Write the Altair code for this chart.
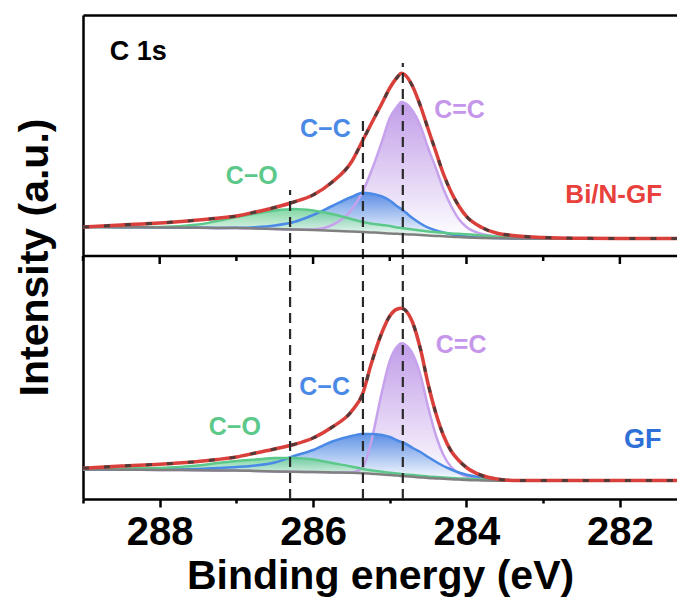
import altair as alt
import pandas as pd

# ---------------- data ----------------
energy = [289.0, 288.5, 288.0, 287.5, 287.25, 287.0, 286.75, 286.5, 286.25, 286.0,
          285.75, 285.5, 285.35, 285.25, 285.1, 285.0, 284.9, 284.85, 284.8, 284.7,
          284.6, 284.5, 284.4, 284.3, 284.2, 284.1, 284.0, 283.8, 283.6, 283.4,
          283.0, 282.5, 282.0, 281.5, 281.0]

# Bi/N-GF (upper spectrum), intensity in arbitrary units
bg_top = [29, 28.8, 28.5, 28.3, 28.1, 28, 27.5, 27, 26.5, 26, 25.3, 24.5, 24, 23.6, 23,
          22.5, 22.2, 22, 21.8, 21.4, 21, 20.5, 20.1, 19.7, 19.3, 18.9, 18.5, 18, 17.7,
          17.5, 17.5, 17.5, 17.5, 17.5, 17.5]
co_top = [29, 28.9, 29, 31.5, 35, 39, 42.5, 45.5, 47, 45.5, 42, 37, 34, 32.5, 31, 30,
          28.5, 28, 27.5, 26.5, 25.5, 24.5, 23.8, 23.2, 22.6, 22.2, 21.8, 20.5, 19.3,
          18.6, 17.8, 17.5, 17.5, 17.5, 17.5]
cc_top = [29, 28.8, 28.5, 28.3, 28.1, 28.2, 28.8, 30.5, 34, 41, 50, 59, 63.3, 62.5,
          59.5, 55.5, 49.5, 47, 44, 37.7, 32.5, 28.3, 25.5, 23.5, 21.8, 20.5, 19.5,
          18.5, 18, 17.6, 17.5, 17.5, 17.5, 17.5, 17.5]
cdc_top = [29, 28.8, 28.5, 28.3, 28.1, 28, 27.5, 27, 26.5, 26.5, 31, 46, 65, 83, 115,
           138, 150, 154, 153, 145, 130, 108, 88, 67, 50, 37, 29, 22, 19.5, 18, 17.5,
           17.5, 17.5, 17.5, 17.5]
fit_top = [29, 31, 33, 36, 37.8, 40, 44, 48.5, 54, 61, 74, 94, 116, 131, 153, 168, 179,
           182.7, 181, 169.3, 150, 127, 104.5, 82, 64, 50, 39.6, 28.5, 22.7, 20.5, 18.5,
           17.7, 17.5, 17.5, 17.5]

# GF (lower spectrum)
bg_bot = [29.5, 29.3, 29, 28.8, 28.6, 28.5, 28, 27.5, 27.2, 27, 26.6, 26.3, 25.8, 25.3,
          24.6, 24, 23.4, 23, 22.7, 22.2, 21.6, 21, 20.6, 20.2, 19.8, 19.4, 19, 18.6,
          18.3, 18.2, 18.2, 18.2, 18.2, 18.2, 18.2]
co_bot = [30, 30.5, 31, 33.5, 36, 38, 39.5, 41, 41, 39.5, 36, 32.5, 30, 28.8, 27.2, 26.2,
          25.4, 25, 24.6, 24, 23.3, 22.5, 22, 21.5, 21, 20.6, 20.2, 19.5, 19, 18.6, 18.2,
          18.2, 18.2, 18.2, 18.2]
cc_bot = [29.5, 29.5, 29.5, 30, 31, 32, 33.5, 36.5, 43, 49, 57.5, 63, 65, 65, 64, 62,
          58.5, 57, 55.5, 51, 47, 42, 37.3, 33, 29.5, 26.5, 24.3, 21.6, 19.7, 18.8, 18.3,
          18.2, 18.2, 18.2, 18.2]
cdc_bot = [29.5, 29.3, 29, 28.8, 28.6, 28.5, 28, 27.5, 27.2, 27, 26.6, 26.5, 32, 55, 108,
           138, 153, 155.7, 154.5, 145, 124, 92, 64, 44, 32, 26, 22.5, 20, 18.8, 18.3,
           18.2, 18.2, 18.2, 18.2, 18.2]
fit_bot = [30.7, 33, 34.8, 37.5, 39.5, 42, 46, 50, 54.5, 61, 72, 87.5, 106, 133, 167, 183,
           190, 190.7, 189, 176, 150, 115, 86, 63.5, 48, 38.5, 31.5, 23.5, 20, 18.6, 18.5,
           18.5, 18.5, 18.5, 18.5]

peak_pos = [286.3, 285.35, 284.83]          # dashed guide lines (eV)
peak_top = [66, 139, 193]                   # where each guide starts in the upper spectrum

major_ticks = [282, 284, 286, 288]
minor_ticks = [283, 285, 287, 289]

panel_offset = {"GF": 0, "Bi/N-GF": 243}     # vertical stacking of spectra
x_domain = [289.0, 281.255]
y_domain = [0, 484]

# ---------------- tables ----------------
rows = []
for panel, bg, co, cc, cdc, fit in [("Bi/N-GF", bg_top, co_top, cc_top, cdc_top, fit_top),
                                     ("GF", bg_bot, co_bot, cc_bot, cdc_bot, fit_bot)]:
    off = panel_offset[panel]
    for i, e in enumerate(energy):
        rows.append(dict(panel=panel, energy=e, bg=bg[i] + off, co=co[i] + off,
                         cc=cc[i] + off, cdc=cdc[i] + off, fit=fit[i] + off))
df = pd.DataFrame(rows)

guides = pd.DataFrame({"energy": peak_pos, "y0": [0] * 3,
                       "y1": [v + panel_offset["Bi/N-GF"] for v in peak_top]})

sep = panel_offset["Bi/N-GF"]
sep_ticks = pd.DataFrame({"energy": major_ticks + minor_ticks,
                          "y0": [sep] * 8,
                          "y1": [sep - 8] * 4 + [sep - 5] * 4})

labels = pd.DataFrame([
    dict(t="C\u2212C", x=285.84, y=362, c="#4a8ae6", s=25),
    dict(t="C\u2212O", x=286.80, y=315, c="#5cc98a", s=25),
    dict(t="C=C", x=284.09, y=381, c="#c596ea", s=25),
    dict(t="Bi/N-GF", x=282.08, y=296, c="#e8413c", s=26),
    dict(t="C\u2212C", x=285.85, y=104, c="#4a8ae6", s=25),
    dict(t="C\u2212O", x=287.02, y=64, c="#5cc98a", s=25),
    dict(t="C=C", x=284.07, y=146, c="#c596ea", s=25),
    dict(t="GF", x=281.70, y=51, c="#2e6fd8", s=27),
])
core_label = pd.DataFrame([dict(t="C 1s", x=288.65, y=439)])

# ---------------- encodings ----------------
FONT = "Liberation Sans"
xs = alt.Scale(domain=x_domain, nice=False, zero=False)
ys = alt.Scale(domain=y_domain, nice=False, zero=False)
yaxis = alt.Axis(title="Intensity (a.u.)", labels=False, ticks=False, grid=False,
                 domainColor="black", domainWidth=2.5, titleFont=FONT,
                 titleFontSize=41, titleFontWeight="bold", titleColor="black",
                 titlePadding=27)


def X(axis=None, field="energy:Q"):
    return alt.X(field, scale=xs, axis=axis)


def Y(f):
    return alt.Y(f, type="quantitative", scale=ys, axis=yaxis)


base = alt.Chart(df)


def grad(c):
    return alt.Gradient(gradient="linear",
                        stops=[alt.GradientStop(color="#ffffff", offset=0),
                               alt.GradientStop(color=c, offset=1)],
                        x1=1, x2=1, y1=1, y2=0)


fills = []
for field, col in [("cdc", "#b184e2"), ("cc", "#3a7be0"), ("co", "#62cc8e")]:
    fills.append(base.mark_area(color=grad(col), opacity=0.8, interpolate="monotone",
                                clip=True)
                 .encode(x=X(), y=Y(field), y2=alt.Y2("bg"), detail="panel:N"))

lines = []
for field, col in [("cdc", "#c7a2ec"), ("cc", "#4a8ae6"), ("co", "#5cc98a")]:
    lines.append(base.mark_line(color=col, strokeWidth=2.5, interpolate="monotone",
                                clip=True)
                 .encode(x=X(), y=Y(field), detail="panel:N"))

bg_line = base.mark_line(color="#808080", strokeWidth=2.5, interpolate="monotone",
                         clip=True).encode(x=X(), y=Y("bg"), detail="panel:N")

bottom_axis = alt.Axis(values=major_ticks + minor_ticks,
                       labelExpr="datum.value % 2 === 0 ? datum.label : ''",
                       tickSize={"condition": {"test": "datum.value % 2 === 0", "value": 8},
                                 "value": 4},
                       tickWidth=2.5, tickColor="black", domainColor="black",
                       domainWidth=2.5, grid=False, labelFont=FONT, labelFontSize=40,
                       labelFontWeight="bold", labelColor="black", labelPadding=5,
                       labelFlush=False, labelOverlap=False,
                       title="Binding energy (eV)", titleFont=FONT, titleFontSize=41,
                       titleFontWeight="bold", titleColor="black", titlePadding=4)

fit_line = base.mark_line(color="#d9403b", strokeWidth=3.5, interpolate="monotone",
                          clip=True).encode(x=X(bottom_axis), y=Y("fit"), detail="panel:N")
raw_line = base.mark_line(color="#3a3a3a", strokeWidth=3, strokeDash=[6, 15],
                          opacity=0.85, interpolate="monotone", clip=True).encode(
    x=X(), y=Y("fit"), detail="panel:N")

top_axis = alt.Axis(orient="top", labels=False, ticks=False, title=None, grid=False,
                    domainColor="black", domainWidth=2.5)
guide_rules = alt.Chart(guides).mark_rule(color="#2a2a2a", strokeWidth=2.2,
                                          strokeDash=[10, 6]).encode(
    x=X(top_axis), y=Y("y0"), y2="y1")

sep_rule = alt.Chart(pd.DataFrame({"y": [sep]})).mark_rule(
    color="black", strokeWidth=2.5).encode(y=Y("y"))
sep_tick = alt.Chart(sep_ticks).mark_rule(color="black", strokeWidth=2.5).encode(
    x=X(), y=Y("y0"), y2="y1")

texts = alt.Chart(labels).mark_text(font=FONT, fontWeight="bold", baseline="alphabetic",
                                    align="center").encode(
    x=X(field="x:Q"), y=Y("y:Q"), text="t:N",
    color=alt.Color("c:N", scale=None), size=alt.Size("s:Q", scale=None))
core_text = alt.Chart(core_label).mark_text(font=FONT, fontWeight="bold", fontSize=27,
                                            baseline="alphabetic", align="left",
                                            color="black").encode(
    x=X(field="x:Q"), y=Y("y:Q"), text="t:N")

chart = alt.layer(*fills, *lines, bg_line, fit_line, raw_line, guide_rules, sep_rule,
                  sep_tick, texts, core_text).resolve_axis(x="independent").properties(
    width=594, height=484, autosize="none",
    padding={"left": 75, "top": 7, "right": 0, "bottom": 103}
).configure_view(stroke=None).configure_axis(grid=False)

chart.save("out.html", embed_options={"renderer": "svg", "actions": False})
